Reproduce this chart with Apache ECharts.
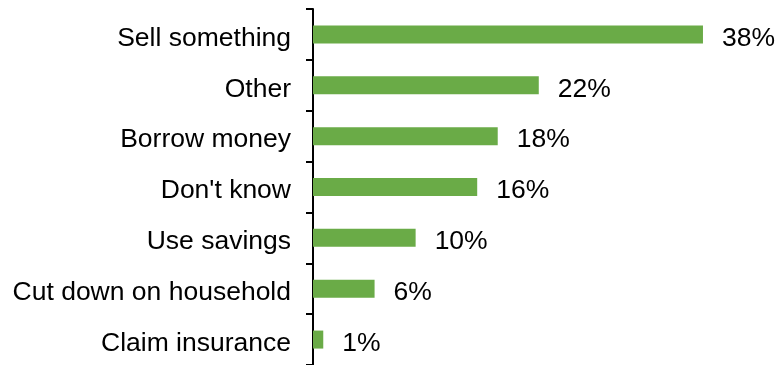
<!DOCTYPE html>
<html>
<head>
<meta charset="utf-8">
<script src="https://cdn.jsdelivr.net/npm/echarts@6/dist/echarts.min.js"></script>
<style>
  html, body { margin: 0; padding: 0; background: #fff; }
  #chart { width: 776px; height: 365px; }
</style>
</head>
<body>
<div id="chart"></div>
<script>
// Responses, top to bottom
const categories = [
  'Sell something',
  'Other',
  'Borrow money',
  "Don't know",
  'Use savings',
  'Cut down on household',
  'Claim insurance'
];
// Share of respondents, percent
const shares = [38, 22, 18, 16, 10, 6, 1];

const chart = echarts.init(document.getElementById('chart'), null, { renderer: 'canvas' });

// Shared text style; top-aligned with a short line box so glyphs sit just below the band centre
const textFont = {
  color: '#000',
  fontFamily: 'Liberation Sans, Arial, sans-serif',
  fontSize: 26.5,
  verticalAlign: 'top',
  lineHeight: 8
};

chart.setOption({
  animation: false,
  backgroundColor: '#ffffff',
  grid: { left: 313, right: 52.5, top: 9, bottom: -3, containLabel: false },
  xAxis: {
    type: 'value',
    min: 0,
    max: 40,
    show: false
  },
  yAxis: {
    type: 'category',
    data: categories,
    inverse: true,
    axisLine: { show: true, lineStyle: { color: '#000', width: 2 } },
    axisTick: { show: true, length: 7, lineStyle: { color: '#000', width: 2 } },
    axisLabel: Object.assign({ margin: 22 }, textFont),
    splitLine: { show: false }
  },
  series: [{
    type: 'bar',
    data: shares,
    barWidth: 18,
    itemStyle: { color: '#6AAB47' },
    label: Object.assign({
      show: true,
      position: 'right',
      distance: 19,
      formatter: '{c}%'
    }, textFont)
  }]
});
</script>
</body>
</html>
